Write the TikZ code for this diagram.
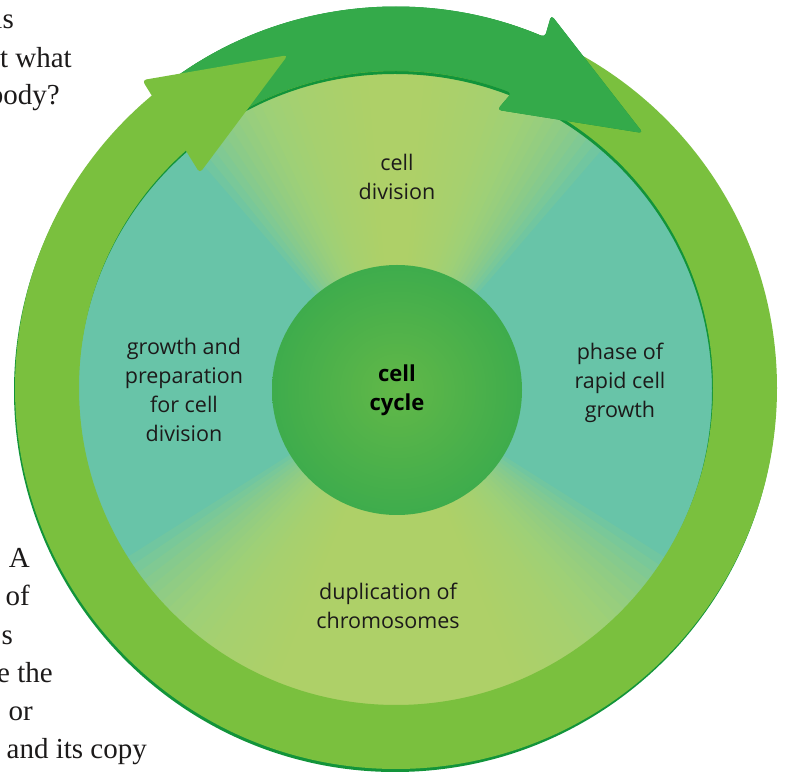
\documentclass[tikz,border=0pt]{standalone}
\usepackage{fontspec}
\setmainfont{Open Sans}
\newfontfamily\pagefont{Liberation Serif}
\usetikzlibrary{calc}

\definecolor{ringgreen}{RGB}{122,192,62}
\definecolor{arrowgreen}{RGB}{52,170,74}
\definecolor{edgegreen}{RGB}{18,148,58}
\definecolor{phaseteal}{RGB}{104,196,168}
\definecolor{phaseyellow}{RGB}{182,216,104}
\definecolor{corelight}{RGB}{98,184,72}
\definecolor{coredark}{RGB}{62,172,76}
\definecolor{inktext}{RGB}{28,26,26}

% dark arrow running along the top of the ring
\newcommand{\darkarrowpath}{
  ($(C)+(126:381)$) arc[start angle=126, end angle=67, radius=381]
  -- ($(C)+(67.4:404)$) -- ($(C)+(45.9:355)$) -- ($(C)+(70:296)$)
  -- ($(C)+(68.6:317)$) arc[start angle=68.6, end angle=126, radius=317] -- cycle}

\begin{document}
\begin{tikzpicture}[x=1pt,y=1pt,
    phase/.style={align=center, inner sep=0pt, text=inktext,
      font=\fontsize{21.5}{29}\selectfont},
    core/.style={circle, minimum size=250pt, inner sep=0pt, shade,
      inner color=corelight, outer color=coredark, align=center, text=black,
      font=\bfseries\fontsize{22}{29}\selectfont},
    pagetext/.style={anchor=base east, inner sep=0pt, text=inktext,
      font=\pagefont\fontsize{29}{38}\selectfont}]
    \useasboundingbox (0,0) rectangle (788,777);
    \clip (0,0) rectangle (788,777);
    \coordinate (C) at (396,389);

    % Inner disk: teal, with soft yellow sectors at top and bottom
    \begin{scope}
        \clip (C) circle (320);
        \fill[phaseteal] (C) circle (320);
        \foreach \k in {1,...,24} {
            \pgfmathsetmacro\a{90-1.7*\k}
            \pgfmathsetmacro\b{90+1.7*\k}
            \fill[phaseyellow, fill opacity=0.12] (C) -- ($(C)+(\a:330)$)
                arc[start angle=\a, end angle=\b, radius=330] -- cycle;
            \pgfmathsetmacro\a{270-17-1.7*\k}
            \pgfmathsetmacro\b{270+17+1.7*\k}
            \fill[phaseyellow, fill opacity=0.12] (C) -- ($(C)+(\a:330)$)
                arc[start angle=\a, end angle=\b, radius=330] -- cycle;
        }
    \end{scope}

    % Ring (light arrow body) with its dark shadow
    \fill[edgegreen, even odd rule] ([shift={(-1pt,-3pt)}]C) circle (381) ([shift={(-1pt,-3pt)}]C) circle (317);
    \fill[ringgreen, even odd rule] (C) circle (381) (C) circle (317);

    % Dark arrow with shadow
    \begin{scope}[yshift=-3pt]
        \fill[edgegreen, rounded corners=4pt] \darkarrowpath;
    \end{scope}
    \fill[arrowgreen, rounded corners=4pt] \darkarrowpath;

    % Head of the light arrow
    \fill[ringgreen, rounded corners=4pt] ($(C)+(129.5:399)$) -- ($(C)+(108:350)$) -- ($(C)+(132.4:291)$) -- cycle;

    % Centre and phases
    \node[core] (cycle) at (397,387) {cell\\cycle};
    \node[phase] (division) at (397,600) {cell\\division};
    \node[phase] (growth) at (184,387) {growth and\\preparation\\for cell\\division};
    \node[phase] (rapid) at (620,394) {phase of\\rapid cell\\growth};
    \node[phase] (duplication) at (388,171) {duplication of\\chromosomes};

    % Bits of the page text beside the figure
    \foreach \x/\y/\t [count=\i] in {14/748/ls, 72/709/t what, 60/672/body?,
        30/209/A, 30/171/of, 13/132/s, 53/94/e the, 33/56/or, 147/18/and its copy}
        \node[pagetext] (page\i) at (\x,\y) {\t};
\end{tikzpicture}
\end{document}
